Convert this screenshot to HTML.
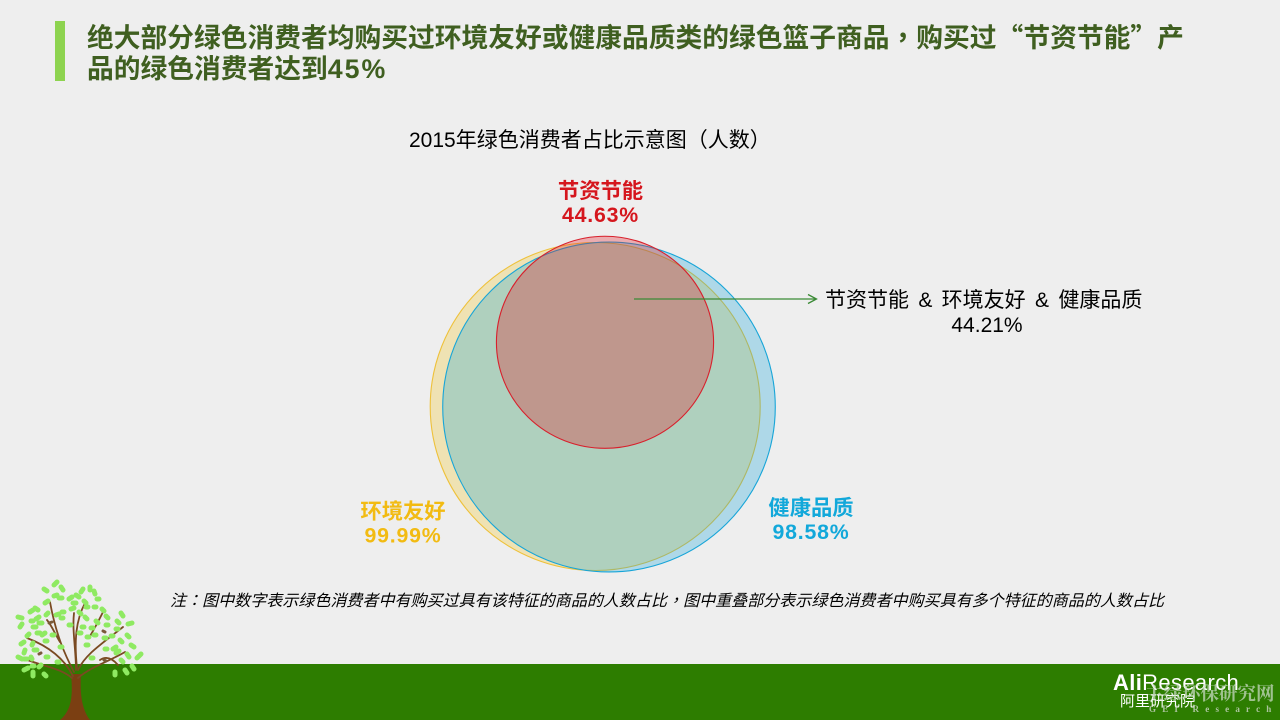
<!DOCTYPE html>
<html lang="zh">
<head>
<meta charset="utf-8">
<title>2015年绿色消费者占比示意图</title>
<style>
html,body{margin:0;padding:0;width:1280px;height:720px;overflow:hidden;background:#eeeeee}
body{position:relative;font-family:"Liberation Sans","Noto Sans CJK SC",sans-serif;color:#000}
.t{position:absolute;white-space:nowrap;line-height:1}
.q{font-family:"Noto Sans CJK SC",sans-serif}
.p{font-family:"Noto Sans CJK TC",sans-serif}
#chart{position:absolute;left:0;top:0}
</style>
</head>
<body>
<div style="position:absolute;left:55px;top:21px;width:10px;height:60px;background:#8dd34f"></div>
<div class="t" style="left:87px;top:21px;font-size:26.75px;font-weight:700;color:#3f5f20;line-height:30px">绝大部分绿色消费者均购买过环境友好或健康品质类的绿色篮子商品<span class="p" lang="zh-Hant-TW">，</span>购买过<span class="q">“</span>节资节能<span class="q">”</span>产</div>
<div class="t" style="left:87px;top:54px;font-size:26.75px;font-weight:700;color:#3f5f20;line-height:30px">品的绿色消费者达到<span style="letter-spacing:2px">45%</span></div>
<div class="t" style="left:409px;top:127px;font-size:21px;line-height:24px">2015年绿色消费者占比示意图<span class="p" lang="zh-Hant-TW">（</span>人数<span class="p" lang="zh-Hant-TW">）</span></div>

<svg id="chart" width="1280" height="720" viewBox="0 0 1280 720" xmlns="http://www.w3.org/2000/svg"></svg>

<div class="t" style="left:170px;top:590px;font-size:16.05px;font-style:italic;line-height:18px">注<span class="p" lang="zh-Hant-TW">：</span>图中数字表示绿色消费者中有购买过具有该特征的商品的人数占比<span class="p" lang="zh-Hant-TW">，</span>图中重叠部分表示绿色消费者中购买具有多个特征的商品的人数占比</div>

<div style="position:absolute;left:0;top:664px;width:1280px;height:56px;background:#2d7d00"></div>

<svg width="160" height="150" viewBox="0 0 160 150" style="position:absolute;left:0;top:570px" xmlns="http://www.w3.org/2000/svg">
  <path fill="#7b3f12" d="M71 104 C73 125 72 140 60 150 L90 150 C81 138 80 122 81 104 Z"/>
  <path fill="none" stroke="#7a4a22" stroke-width="1.8" stroke-linecap="round" d="M73 106 C64 88 48 76 27 68 M74 102 C65 85 56 65 50 32 M76 100 C76 80 72 60 74 43 M77 98 C74 70 76 50 85 33 M78 100 C85 85 100 75 123 57 M78 108 C92 96 108 92 125 82 M72 108 C60 98 45 97 22 88 M60 72 C55 64 52 56 47 50 M90 66 C95 58 100 48 103 42 M100 90 C106 86 112 88 118 95"/>
  <path fill="none" stroke="#8fea62" stroke-width="5" stroke-linecap="round" d="M54 15l3-3M44 19l3 2M61 17l2 3M81 22l2-3M90 17v3M94 21l1 3M54 26l3-1M59 28l3 0M69 29l3-2M76 25l3 2M97 29l2 0M45 33l3-2M73 33l3 0M84 31l2 2M71 39l3-1M86 37l2 0M94 37l2 0M30 42l3-2M35 38l3 2M46 45l2-2M56 45l3-1M62 42l2 0M79 42l2 2M102 39l2 2M121 43l2 3M18 47l4 1M20 57l2-3M31 51l2 0M36 49l3-2M39 53l3 0M33 57l3 0M61 48l2 0M85 47l2 2M106 46l2 2M117 51l2 2M128 54l4-1M96 51l2 2M106 55l2 0M69 55l2 0M82 57l2 0M116 59l2 0M91 58l2 0M42 65l3-2M37 63l3 0M27 66l2-2M79 63l2 0M94 65l2 0M87 67l2 0M111 66l2 0M104 68l2 0M127 65l2 2M120 70l2 2M21 74l3-2M45 71l2 0M52 65l2 0M32 75l1-2M86 75l2 0M131 75l3 2M113 79l3-2M60 77l2 0M105 79l2 0M24 83l1-3M34 80l3 0M116 83l3-2M127 84l2 3M137 88l4-4M18 87l4 2M24 89l3 0M31 87l1 2M46 87l2 0M91 88l2 0M121 90l2 2M57 92l2 0M24 100l4-2M33 102l0 4M32 96l2 0M39 97l2-2M44 104l2 2M115 102l0 3M125 100l2 3M132 96l2 3"/>
  <path fill="none" stroke="#7a5a3a" stroke-width="3" stroke-linecap="round" d="M49 53l3-1M103 61l2 1M39 84l2-1M104 90l2 1"/>
</svg>

<div class="t" style="left:1113px;top:671px;font-size:22px;color:#fff;line-height:24px;letter-spacing:.35px"><b>Ali</b>Research</div>
<div class="t" style="left:1120px;top:693px;font-size:15px;color:#fff;line-height:18px">阿里研究院</div>
<div class="t" style="left:1145px;top:685px;font-size:18.5px;font-weight:700;color:rgba(205,220,200,.72);line-height:20px;font-family:'Liberation Serif','Noto Serif CJK SC',serif">主绿环保研究网</div>
<div class="t" style="left:1149px;top:704px;font-size:9px;font-weight:700;color:rgba(205,215,200,.8);line-height:11px;letter-spacing:6.2px;font-family:'Liberation Serif',serif">GEI Research</div>

<script>
// Chart data
const categories = ['节资节能', '环境友好', '健康品质'];
const seriesValues = [44.63, 99.99, 98.58];
const overlapLabel = '节资节能 & 环境友好 & 健康品质';
const overlapValue = [44.21];

// Scale: circle area proportional to share of people
const NS = 'http://www.w3.org/2000/svg';
const chart = document.getElementById('chart');
function radiusOf(value) { return 16.5 * Math.sqrt(value); }
function percent(value) { return value.toFixed(2) + '%'; }

// Presentation per category, keyed by name (not data)
const styles = {
  '节资节能': { name: 'energy-saving', stroke: '#d8202c', fill: '#e5141e', alpha: .3, cx: 605, cy: 342.3, fx: .985, fy: .962, lx: 600.5, ly: 179, color: '#d5161d' },
  '环境友好': { name: 'eco-friendly', stroke: '#eec13a', fill: '#f5c518', alpha: .27, cx: 595.2, cy: 406.5, fx: 1, fy: .994, lx: 403, ly: 499.5, color: '#f2bb12' },
  '健康品质': { name: 'health-quality', stroke: '#17a5d8', fill: '#0aa0dc', alpha: .28, cx: 609, cy: 407, fx: 1.015, fy: 1.007, lx: 811, ly: 496, color: '#12a8da' }
};

// Draw order: yellow, blue, then red on top
[1, 2, 0].forEach(function (i) {
  const s = styles[categories[i]];
  const r = radiusOf(seriesValues[i]);
  const e = document.createElementNS(NS, 'ellipse');
  
  
  e.setAttribute('cx', s.cx);
  e.setAttribute('cy', s.cy);
  e.setAttribute('rx', r * s.fx);
  e.setAttribute('ry', r * s.fy);
  e.setAttribute('fill', s.fill);
  e.setAttribute('fill-opacity', s.alpha);
  e.setAttribute('stroke', s.stroke);
  e.setAttribute('stroke-width', '1.1');
  chart.appendChild(e);
});

// Category labels
categories.forEach(function (cat, i) {
  const s = styles[cat];
  const a = document.createElementNS(NS, 'text');
  
  
  a.setAttribute('x', s.lx);
  a.setAttribute('y', s.ly + 19);
  a.setAttribute('text-anchor', 'middle');
  a.setAttribute('font-size', '21.3');
  a.setAttribute('font-weight', '700');
  a.setAttribute('fill', s.color);
  a.textContent = cat;
  chart.appendChild(a);
  const b = document.createElementNS(NS, 'text');
  
  
  b.setAttribute('x', s.lx);
  b.setAttribute('y', s.ly + 43);
  b.setAttribute('text-anchor', 'middle');
  b.setAttribute('font-size', '21.3');
  b.setAttribute('font-weight', '700');
  b.setAttribute('letter-spacing', '.8');
  b.setAttribute('fill', s.color);
  b.textContent = percent(seriesValues[i]);
  chart.appendChild(b);
});

// Leader line and overlap label
const leader = document.createElementNS(NS, 'path');


leader.setAttribute('d', 'M634 299 H816 M808 294.5 L816.5 299 L808 303.5');
leader.setAttribute('fill', 'none');
leader.setAttribute('stroke', '#3a8a35');
leader.setAttribute('stroke-width', '1.3');
chart.appendChild(leader);

const ol = document.createElementNS(NS, 'text');


ol.setAttribute('x', 825);
ol.setAttribute('y', 307);
ol.setAttribute('font-size', '21');
ol.setAttribute('word-spacing', '3.5');
ol.textContent = overlapLabel;
chart.appendChild(ol);

const ov = document.createElementNS(NS, 'text');


ov.setAttribute('x', 987);
ov.setAttribute('y', 332);
ov.setAttribute('text-anchor', 'middle');
ov.setAttribute('font-size', '21');
ov.textContent = percent(overlapValue[0]);
chart.appendChild(ov);
</script>
</body>
</html>
